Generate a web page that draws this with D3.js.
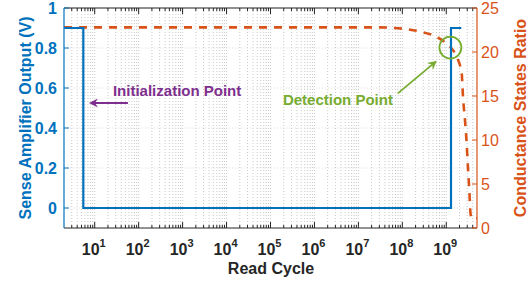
<!DOCTYPE html>
<html lang="en">
<head>
<meta charset="UTF-8">
<title>Sense Amplifier Output vs Read Cycle</title>
<script src="https://d3js.org/d3.v7.min.js"></script>
<style>
  body { margin: 0; background: #fff; overflow: hidden; }
  svg text { font-family: "Liberation Sans", Arial, sans-serif; }
</style>
</head>
<body>
<div id="chart"></div>
<script>
// sense amplifier output (left axis)
const saCycle = [2, 5.5, 5.5, 1.28e9, 1.28e9, 2.2e9];
const saVolt  = [0.9, 0.9, 0, 0, 0.9, 0.9];

// conductance states ratio (right axis)
const ratioCycle = [2, 1e3, 3.1e7, 5.2e7, 1.21e8, 2.65e8, 5.25e8, 9.8e8, 1.66e9, 2.24e9,
                    2.4e9, 2.66e9, 2.91e9, 3.11e9, 3.37e9, 3.55e9, 3.78e9, 5e9];
const ratioVal   = [22.8, 22.8, 22.8, 22.76, 22.6, 22.3, 21.85, 21.0, 19.6, 17.6,
                    14.9, 12.3, 9.6, 6.9, 4.0, 1.7, 1.1, 1.1];

const xMajor = [1e1, 1e2, 1e3, 1e4, 1e5, 1e6, 1e7, 1e8, 1e9];
const xExp   = [1, 2, 3, 4, 5, 6, 7, 8, 9];
const leftTicks  = [0, 0.2, 0.4, 0.6, 0.8, 1];
const rightTicks = [0, 5, 10, 15, 20, 25];

const W = 532, H = 283;
const L = 64, R = 477, T = 8, B = 228;
const blue = "#0072BD", orange = "#D95319", green = "#77AC30", purple = "#7E2F8E", ink = "#262626";

const svg = d3.select("#chart").append("svg").attr("width", W).attr("height", H);

const x  = d3.scaleLog().domain([2, 5e9]).range([L, R]);
const yL = d3.scaleLinear().domain([-0.1, 1]).range([B, T]);
const yR = d3.scaleLinear().domain([0, 25]).range([B, T]);

// minor tick positions for the log axis
const xMinor = [];
for (let e = 0; e <= 9; e++) {
  for (let m = 1; m <= 9; m++) {
    const v = m * Math.pow(10, e);
    if (v > 2 && v < 5e9 && m !== 1) xMinor.push(v);
  }
}

svg.append("clipPath").attr("id", "plot")
  .append("rect").attr("x", L).attr("y", T).attr("width", R - L).attr("height", B - T);

// grid
const grid = svg.append("g").attr("stroke", "#bdbdbd").attr("stroke-width", 0.8)
  .attr("stroke-dasharray", "1,2");
grid.selectAll(".gx").data(xMinor.concat(xMajor)).enter().append("line")
  .attr("x1", d => x(d)).attr("x2", d => x(d)).attr("y1", T).attr("y2", B);
grid.selectAll(".gy").data(leftTicks).enter().append("line")
  .attr("x1", L).attr("x2", R).attr("y1", d => yL(d)).attr("y2", d => yL(d))
  .attr("stroke", "#d6d6d6");

const plot = svg.append("g").attr("clip-path", "url(#plot)");

// orange dashed ratio curve
plot.append("path")
  .datum(ratioCycle.map((c, i) => [c, ratioVal[i]]))
  .attr("fill", "none").attr("stroke", orange).attr("stroke-width", 2.6)
  .attr("stroke-dasharray", "8,7")
  .attr("d", d3.line().x(d => x(d[0])).y(d => yR(d[1])).curve(d3.curveMonotoneX));

// blue step line
plot.append("path")
  .datum(saCycle.map((c, i) => [c, saVolt[i]]))
  .attr("fill", "none").attr("stroke", blue).attr("stroke-width", 2.2)
  .attr("d", d3.line().x(d => x(d[0])).y(d => yL(d[1])));

// box: top and bottom axes
svg.append("line").attr("x1", L).attr("x2", R).attr("y1", T).attr("y2", T).attr("stroke", ink);
svg.append("line").attr("x1", L).attr("x2", R).attr("y1", B).attr("y2", B).attr("stroke", ink);

const tk = svg.append("g").attr("stroke", ink).attr("stroke-width", 1);
tk.selectAll(".bmj").data(xMajor).enter().append("line")
  .attr("x1", d => x(d)).attr("x2", d => x(d)).attr("y1", B).attr("y2", B - 6);
tk.selectAll(".tmj").data(xMajor).enter().append("line")
  .attr("x1", d => x(d)).attr("x2", d => x(d)).attr("y1", T).attr("y2", T + 6);
tk.selectAll(".bmn").data(xMinor).enter().append("line")
  .attr("x1", d => x(d)).attr("x2", d => x(d)).attr("y1", B).attr("y2", B - 3);
tk.selectAll(".tmn").data(xMinor).enter().append("line")
  .attr("x1", d => x(d)).attr("x2", d => x(d)).attr("y1", T).attr("y2", T + 3);

// x tick labels 10^n
const xl = svg.append("g").attr("fill", ink).attr("font-weight", "bold");
xMajor.forEach((v, i) => {
  const t = xl.append("text").attr("x", x(v) - 1).attr("y", 255)
    .attr("text-anchor", "middle").attr("font-size", 16);
  t.append("tspan").text("10");
  t.append("tspan").attr("dy", -8).attr("font-size", 11).text(xExp[i]);
});

svg.append("text").attr("x", 271).attr("y", 274).attr("text-anchor", "middle")
  .attr("font-size", 16).attr("font-weight", "bold").attr("fill", ink).text("Read Cycle");

// left axis
svg.append("line").attr("x1", L).attr("x2", L).attr("y1", T).attr("y2", B)
  .attr("stroke", blue).attr("stroke-width", 1.2);
svg.append("g").selectAll("line").data(leftTicks).enter().append("line")
  .attr("x1", L).attr("x2", L + 5).attr("y1", d => yL(d)).attr("y2", d => yL(d))
  .attr("stroke", blue);
svg.append("g").selectAll("text").data(leftTicks).enter().append("text")
  .attr("x", L - 7).attr("y", d => yL(d) + 6).attr("text-anchor", "end")
  .attr("font-size", 16).attr("font-weight", "bold").attr("fill", blue)
  .text(d => d);
svg.append("text").attr("transform", `translate(31,${(T + B) / 2}) rotate(-90)`)
  .attr("text-anchor", "middle").attr("font-size", 16).attr("font-weight", "bold")
  .attr("fill", blue).text("Sense Amplifier Output (V)");

// right axis
svg.append("line").attr("x1", R).attr("x2", R).attr("y1", T).attr("y2", B)
  .attr("stroke", orange).attr("stroke-width", 1.2);
svg.append("g").selectAll("line").data(rightTicks).enter().append("line")
  .attr("x1", R).attr("x2", R - 5).attr("y1", d => yR(d)).attr("y2", d => yR(d))
  .attr("stroke", orange);
svg.append("g").selectAll("text").data(rightTicks).enter().append("text")
  .attr("x", R + 4).attr("y", d => yR(d) + 6).attr("text-anchor", "start")
  .attr("font-size", 16).attr("fill", orange)
  .text(d => d);
svg.append("text").attr("transform", `translate(526,${(T + B) / 2}) rotate(-90)`)
  .attr("text-anchor", "middle").attr("font-size", 16).attr("font-weight", "bold")
  .attr("fill", orange).text("Conductance States Ratio");

// arrow helper
function arrow(x1, y1, x2, y2, color) {
  const a = Math.atan2(y2 - y1, x2 - x1);
  const len = 9, wid = 4.5, back = 6;
  const bx = x2 - Math.cos(a) * back, by = y2 - Math.sin(a) * back;
  svg.append("line").attr("x1", x1).attr("y1", y1).attr("x2", bx).attr("y2", by)
    .attr("stroke", color).attr("stroke-width", 1.8);
  const p1 = [x2 - Math.cos(a) * len - Math.sin(a) * wid, y2 - Math.sin(a) * len + Math.cos(a) * wid];
  const p2 = [x2 - Math.cos(a) * len + Math.sin(a) * wid, y2 - Math.sin(a) * len - Math.cos(a) * wid];
  svg.append("path").attr("d", `M${x2},${y2}L${p1}L${bx},${by}L${p2}Z`).attr("fill", color);
}

// initialization annotation
svg.append("text").attr("x", x(26)).attr("y", yL(0.56))
  .attr("font-size", 15).attr("font-weight", "bold").attr("fill", purple)
  .text("Initialization Point");
arrow(x(57), yL(0.525), x(7.4), yL(0.525), purple);

// detection annotation
svg.append("text").attr("x", x(1.92e5)).attr("y", yR(14.0))
  .attr("font-size", 15).attr("font-weight", "bold").attr("fill", green)
  .text("Detection Point");
arrow(x(7.9e7), yR(15.3), x(6.1e8), yR(19.0), green);
svg.append("circle").attr("cx", x(1.24e9)).attr("cy", yR(20.5)).attr("r", 11)
  .attr("fill", "none").attr("stroke", green).attr("stroke-width", 1.8);
</script>
</body>
</html>
